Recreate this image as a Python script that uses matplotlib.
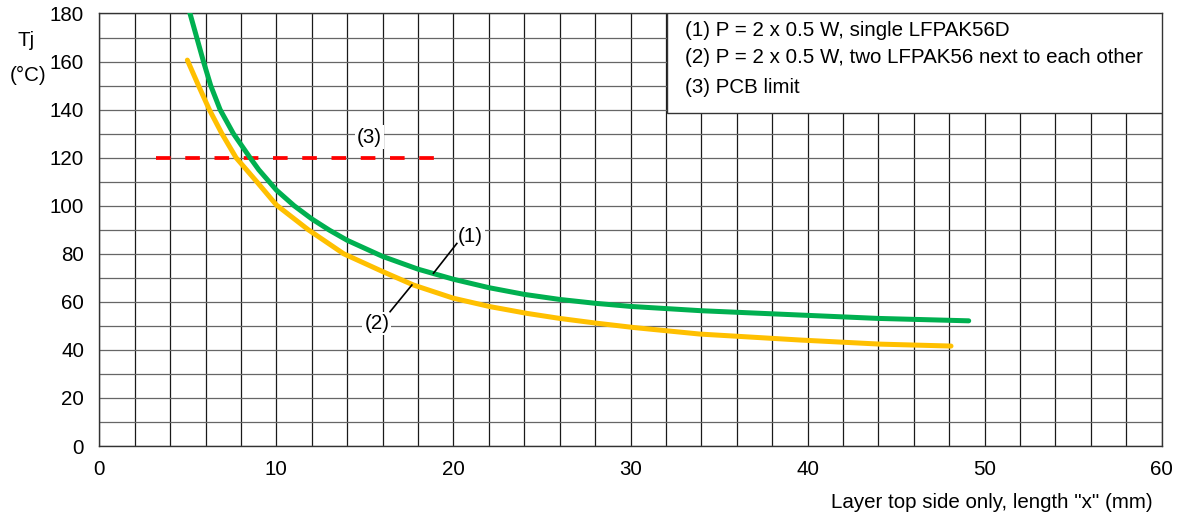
import matplotlib
matplotlib.use("Agg")
import matplotlib.pyplot as plt
from matplotlib.patches import Rectangle

plt.rcParams['font.family'] = ['Liberation Sans', 'DejaVu Sans']

# curva (1): un solo LFPAK56D
x1 = [5.0, 5.12, 5.5, 5.88, 6.29, 6.82, 7.57, 8.51, 9.0, 10.0, 11.0, 12.0, 13.0, 14.0,
      16.0, 18.0, 20.0, 22.0, 24.0, 26.0, 28.0, 30.0, 34.0, 39.6, 44.0, 49.1]
y1 = [183, 180, 170, 160, 150, 140, 130, 120, 115, 106.5, 100, 94.5, 89.8, 85.6,
      78.9, 73.6, 69.4, 65.9, 63.1, 61.0, 59.4, 58.1, 56.3, 54.5, 53.1, 52.1]

# curva (2): dos LFPAK56 juntos
x2 = [4.97, 5.6, 6.21, 6.92, 7.72, 8.89, 10.0, 11.8, 13.8, 16.0, 17.74, 20.0,
      22.07, 24.15, 26.0, 28.1, 30.2, 33.9, 39.6, 44.1, 48.1]
y2 = [160.6, 150, 140, 130, 120, 110, 100.3, 90, 80, 72.6, 67.0, 61.5,
      58.0, 55.2, 53.1, 51.1, 49.3, 46.6, 44.1, 42.4, 41.6]

# (3) limite del PCB
x3 = [3.2, 19.0]
y3 = [120, 120]

legend_lines = ['(1) P = 2 x 0.5 W, single LFPAK56D',
                '(2) P = 2 x 0.5 W, two LFPAK56 next to each other',
                '(3) PCB limit']

fs = 14.8

fig = plt.figure(figsize=(11.8, 5.17), dpi=100)
ax = fig.add_axes([0.0842, 0.1373, 0.9003, 0.8366])

ax.set_xlim(0, 60)
ax.set_ylim(0, 180)
ax.set_xticks(range(0, 61, 10))
ax.set_xticks(range(0, 61, 2), minor=True)
ax.set_yticks(range(0, 181, 20))
ax.set_yticks(range(0, 181, 10), minor=True)
ax.tick_params(which='both', length=0, labelsize=fs)
ax.tick_params(axis='x', pad=10)
ax.tick_params(axis='y', pad=11)

# rejilla: verticales negras, horizontales grises
ax.grid(axis='x', which='both', color='#1a1a1a', lw=0.9)
ax.grid(axis='y', which='both', color='#666666', lw=0.9)
ax.set_axisbelow(True)
for s in ax.spines.values():
    s.set_color('#333333')
    s.set_linewidth(1.0)

ax.plot(x3, y3, color='#ff0000', lw=2.7, dashes=(3.9, 3.9), solid_capstyle='butt', zorder=3)
ax.plot(x1, y1, color='#00b050', lw=3.6, solid_capstyle='round', zorder=4)
ax.plot(x2, y2, color='#ffc000', lw=3.6, solid_capstyle='round', zorder=4)

box = dict(facecolor='white', edgecolor='none', pad=1.5)
ax.text(15.24, 128.6, '(3)', fontsize=fs, ha='center', va='center', bbox=box, zorder=5)
ax.text(20.94, 87.1, '(1)', fontsize=fs, ha='center', va='center', bbox=box, zorder=5)
ax.text(15.67, 51.1, '(2)', fontsize=fs, ha='center', va='center', bbox=box, zorder=5)
ax.plot([20.19, 18.87], [84.3, 71.9], color='black', lw=1.2, zorder=5)
ax.plot([16.42, 17.65], [55.9, 67.0], color='black', lw=1.2, zorder=5)

# cuadro de leyenda
ax.add_patch(Rectangle((32.05, 138.6), 27.95, 41.4, facecolor='white', edgecolor='#333333',
                       lw=1.0, zorder=6))
for yy, t in zip([173.1, 161.5, 149.0], legend_lines):
    ax.text(33.1, yy, t, fontsize=fs, ha='left', va='center', zorder=7)

fig.text(26 / 1180, 1 - 40 / 517, 'Tj', fontsize=fs, ha='center', va='center')
fig.text(28 / 1180, 1 - 75 / 517, '(°C)', fontsize=fs, ha='center', va='center')
fig.text(1153 / 1180, 1 - 503 / 517, 'Layer top side only, length "x" (mm)', fontsize=fs,
         ha='right', va='center')

fig.savefig('out.png', dpi=100)
